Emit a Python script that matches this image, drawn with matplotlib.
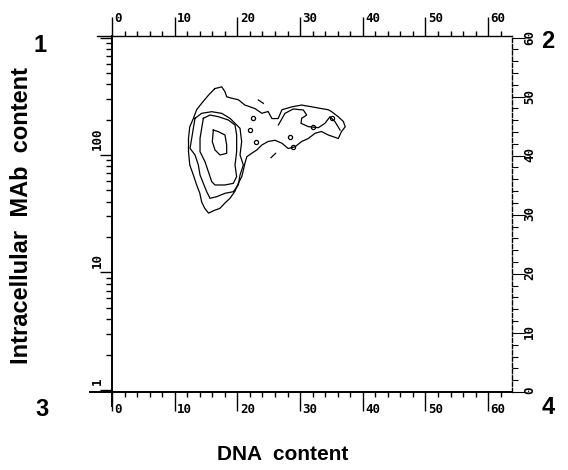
import matplotlib
matplotlib.use('Agg')
import matplotlib.pyplot as plt
import matplotlib.ticker as mticker
import numpy as np

# ------------------------------------------------------------------
# Contour outlines.
# x = DNA content channel (0-64), y = MAb channel (0-60, 20 ch / decade)
# ------------------------------------------------------------------
outer_x = [16.4, 17.5, 18.0, 18.3, 19.35, 20.15, 21.2, 22.8, 23.9, 24.9, 25.5, 26.5,
           27.1, 28.7, 30.25, 31.85, 33.4, 34.5, 35.0, 36.1, 36.9, 37.2, 36.6, 36.1,
           34.5, 33.4, 32.4, 31.3, 30.25, 29.2, 28.1, 27.1, 26.0, 24.9, 23.9, 23.1,
           22.3, 21.5, 21.2, 20.95, 20.7, 20.15, 19.6, 18.8, 18.0, 17.2, 16.4, 15.4,
           14.8, 14.3, 14.0, 13.5, 12.97, 12.4, 12.2, 12.2, 12.4, 12.97, 13.5, 14.3,
           15.4, 16.4]
outer_ch = [51.3, 51.6, 50.8, 49.9, 49.6, 49.4, 48.5, 47.9, 47.1, 47.4, 46.2, 46.2,
            47.7, 48.2, 48.5, 48.2, 47.9, 47.7, 47.4, 46.5, 45.7, 44.8, 44.0, 42.8,
            43.4, 44.0, 43.7, 42.8, 42.3, 41.4, 41.1, 42.0, 42.5, 42.3, 41.7, 40.85,
            40.3, 39.7, 38.6, 37.4, 36.3, 35.2, 33.8, 32.6, 31.8, 30.9, 30.6, 30.1,
            30.9, 32.0, 33.5, 34.9, 36.6, 38.3, 40.6, 42.8, 44.8, 46.2, 47.7, 48.8,
            50.2, 51.3]

mid_x = [13.24, 14.30, 15.90, 17.49, 18.82, 19.62, 20.42, 20.68, 20.42, 20.95, 20.42,
         20.15, 19.35, 18.02, 16.70, 15.63, 15.10, 14.57, 14.04, 13.77, 13.24, 12.44,
         12.71, 12.97, 13.24]
mid_ch = [46.24, 47.09, 47.37, 47.09, 46.24, 45.39, 44.53, 42.26, 40.0, 38.29, 36.59,
          34.89, 33.75, 33.47, 32.90, 32.62, 33.75, 35.17, 36.59, 38.29, 40.0, 41.13,
          42.83, 44.53, 46.24]

core_x = [14.57, 15.63, 16.96, 18.56, 19.62, 19.88, 19.88, 19.62, 19.88, 19.35, 18.02,
          16.43, 15.90, 15.37, 14.83, 14.04, 14.04, 14.30, 14.57]
core_ch = [46.24, 46.80, 46.52, 45.95, 45.10, 43.40, 40.56, 38.29, 36.31, 35.17, 34.89,
           34.89, 35.46, 37.16, 38.86, 40.56, 42.83, 44.53, 46.24]

peak_x = [16.16, 16.96, 18.02, 18.29, 18.29, 17.23, 16.43, 16.0, 16.16]
peak_ch = [44.25, 43.97, 43.40, 41.70, 40.28, 40.0, 40.85, 42.26, 44.25]

tail_x = [26.53, 27.59, 28.92, 30.52, 31.05, 30.25, 30.15, 31.32, 32.91, 33.97, 34.77,
          35.57, 36.37]
tail_ch = [45.10, 47.09, 47.83, 47.66, 46.80, 46.24, 45.39, 44.82, 44.65, 45.39, 46.52,
           45.67, 44.25]

# isolated small islands / dashes
dot_x = [22.54, 22.01, 22.97, 28.39, 28.92, 32.01, 35.14]
dot_ch = [46.24, 44.25, 42.15, 43.12, 41.41, 44.82, 46.24]
dash1_x = [25.36, 26.1]
dash1_ch = [39.54, 40.28]
dash2_x = [23.34, 24.14]
dash2_ch = [49.36, 48.79]

dna_ticks = [0, 10, 20, 30, 40, 50, 60]
mab_ticks = [1, 10, 100]
ch_ticks = [0, 10, 20, 30, 40, 50, 60]


def mab(ch):
    return 10 ** (np.asarray(ch) / 20.0)


fig = plt.figure(figsize=(5.68, 4.70), dpi=100)
ax = fig.add_axes([0.1972, 0.166, 0.7042, 0.7574])
ax.set_yscale('log')
ax.set_xlim(0, 63.8)
ax.set_ylim(0.96, 1030)

lw = 0.9
for xs, cs in [(outer_x, outer_ch), (mid_x, mid_ch), (core_x, core_ch),
               (peak_x, peak_ch), (tail_x, tail_ch), (dash1_x, dash1_ch),
               (dash2_x, dash2_ch)]:
    ax.plot(xs, mab(cs), color='black', lw=lw)
ax.plot(dot_x, mab(dot_ch), 'o', ms=3, mfc='none', mec='black', mew=0.9)

# spines
for s in ['left', 'bottom']:
    ax.spines[s].set_linewidth(1.4)
ax.spines['top'].set_linewidth(1.0)
ax.spines['right'].set_visible(False)

# x ticks (bottom and top)
ax.xaxis.set_major_locator(mticker.FixedLocator(dna_ticks))
ax.xaxis.set_minor_locator(mticker.MultipleLocator(2))
ax.tick_params(axis='x', which='both', top=True, bottom=True, direction='out',
               labelbottom=False, labeltop=False, width=1.0)
ax.tick_params(axis='x', which='major', length=14)
ax.tick_params(axis='x', which='minor', length=3.5)

# y ticks (log)
ax.yaxis.set_major_locator(mticker.LogLocator(base=10))
ax.yaxis.set_minor_locator(mticker.LogLocator(base=10, subs=np.arange(2, 10)))
ax.yaxis.set_minor_formatter(mticker.NullFormatter())
ax.tick_params(axis='y', which='both', left=True, right=False, direction='out',
               labelleft=False, width=1.0)
ax.tick_params(axis='y', which='major', length=9)
ax.tick_params(axis='y', which='minor', length=4)

# right axis: channel scale
sec = ax.secondary_yaxis('right', functions=(lambda v: 20 * np.log10(np.clip(v, 1e-9, None)),
                                              lambda c: 10 ** (np.asarray(c) / 20.0)))
sec.yaxis.set_major_locator(mticker.FixedLocator(ch_ticks))
sec.yaxis.set_minor_locator(mticker.MultipleLocator(2))
sec.tick_params(which='both', direction='out', labelright=False, width=0.8)
sec.tick_params(which='major', length=9)
sec.tick_params(which='minor', length=4)
sec.spines['right'].set_linewidth(1.0)
sec.spines['right'].set_linestyle((0, (3, 1.5)))

tfont = dict(family='DejaVu Sans Mono', fontweight='bold', fontsize=9, color='black')

xt = ax.get_xaxis_transform()
for v in dna_ticks:
    ax.text(v + 0.4, 1.031, str(v), transform=xt, ha='left', va='bottom', **tfont)
    ax.text(v + 0.4, -0.031, str(v), transform=xt, ha='left', va='top', **tfont)

yt = ax.get_yaxis_transform()
for v in mab_ticks:
    ax.text(-0.02, v * 1.1, str(v), transform=yt, ha='right', va='bottom',
            rotation=90, **tfont)
for c in ch_ticks:
    ax.text(1.028, mab(c), str(c), transform=yt, ha='left', va='center',
            rotation=90, **tfont)

# little overshoots of the frame lines at the corners
ax.plot([-0.037, 0], [1, 1], transform=ax.transAxes, color='black', lw=1.0, clip_on=False)
ax.plot([-0.055, 0], [0, 0], transform=ax.transAxes, color='black', lw=1.4, clip_on=False)
ax.plot([0, 0], [0, -0.04], transform=ax.transAxes, color='black', lw=1.4, clip_on=False)

# panel numbers
pfont = dict(family='Liberation Sans', fontweight='bold', fontsize=17, color='black')
fig.text(40 / 568, 1 - 45 / 470, '1', ha='center', va='center', **pfont)
fig.text(548 / 568, 1 - 42 / 470, '2', ha='center', va='center', **pfont)
fig.text(42 / 568, 1 - 410 / 470, '3', ha='center', va='center', **pfont)
fig.text(548 / 568, 1 - 408 / 470, '4', ha='center', va='center', **pfont)

lfont = dict(family='Liberation Sans', fontweight='bold', fontsize=15, color='black')
fig.text(283 / 568, 1 - 455 / 470, 'DNA  content', ha='center', va='center', **lfont)
fig.text(22 / 568, 1 - 215 / 470, 'Intracellular  MAb  content', ha='center', va='center',
         rotation=90, fontsize=17, family='Liberation Sans', fontweight='bold',
         color='black')

fig.savefig('out.png', dpi=100)
